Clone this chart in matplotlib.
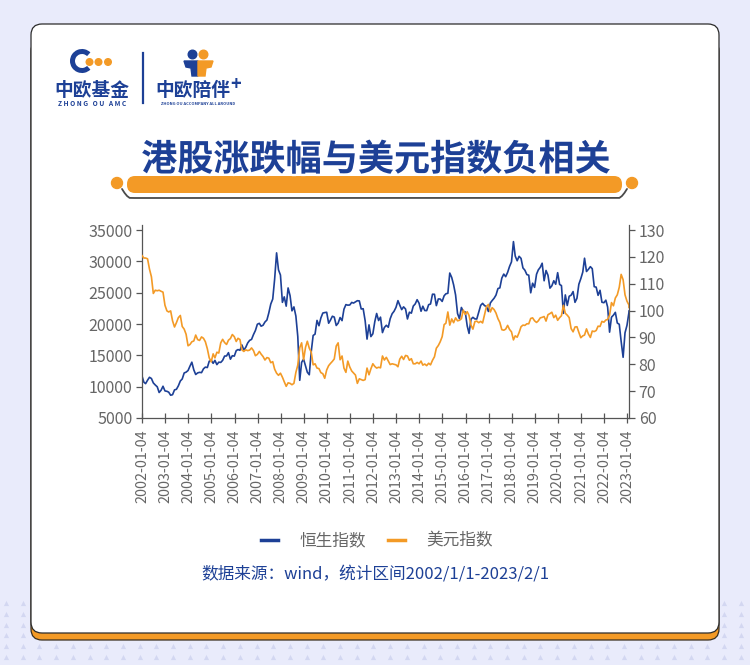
import matplotlib
matplotlib.use("Agg")
import matplotlib.pyplot as plt
import matplotlib.patheffects as pe
from matplotlib.patches import FancyBboxPatch, Circle, Arc, Polygon
from matplotlib.lines import Line2D
import numpy as np
import pandas as pd

plt.rcParams['font.family'] = ['Noto Sans CJK SC', 'DejaVu Sans']

BLUE = '#1d4096'
ORANGE = '#f39a26'
GRAY = '#666666'

# month-end observations, 2002-01 .. 2023-01, plus the last day of the range
first_day = '2002-01-02'
last_day = '2023-02-01'

hsi = [
    11700,
    10725, 10482, 11033, 11497, 11301, 10598, 10267, 9980, 9072, 9441, 10069, 9321,
    9258, 9122, 8634, 8717, 9487, 9577, 10135, 10908, 11230, 12190, 12317, 12576,
    13289, 13908, 12682, 11942, 12198, 12286, 12239, 12850, 13120, 13054, 14060, 14230,
    13722, 14196, 13516, 13908, 13868, 14201, 14880, 14903, 15429, 14386, 14937, 14876,
    15753, 15919, 15805, 16661, 15857, 16267, 16971, 17392, 17543, 18324, 18960, 19965,
    20107, 19652, 19801, 20319, 20635, 21773, 23185, 23984, 27142, 31352, 28643, 27813,
    23456, 24332, 22849, 25755, 24533, 22102, 22731, 21262, 18016, 11016, 13888, 14387,
    13278, 12300, 11900, 15521, 18171, 18379, 20573, 19724, 20955, 21753, 21822, 21873,
    20122, 20608, 21239, 21108, 19765, 20129, 21030, 20536, 22359, 23096, 23008, 23035,
    23447, 23338, 23528, 23720, 23684, 22398, 22440, 20535, 17592, 19864, 17989, 18434,
    20390, 21680, 20556, 21094, 18629, 19441, 19796, 19482, 20840, 21642, 22030, 22657,
    23730, 23020, 22300, 22737, 22392, 20803, 21883, 21731, 22859, 23206, 23881, 23306,
    22035, 22837, 22151, 22134, 23082, 23191, 24757, 24742, 22933, 23998, 23987, 23605,
    24507, 24823, 24901, 28133, 27424, 26250, 24636, 21670, 20846, 22640, 21996, 21914,
    19683, 18500, 20777, 21067, 20815, 20794, 21891, 22977, 23297, 22935, 22790, 22001,
    23361, 23741, 24112, 24615, 25661, 25765, 27323, 27970, 27554, 28246, 29177, 29919,
    33150, 30845, 30093, 30808, 30469, 28955, 28583, 27888, 27789, 24980, 26507, 25846,
    27942, 28633, 29051, 29699, 26901, 28543, 27778, 25725, 26092, 26907, 26346, 28190,
    26313, 26130, 21700, 24644, 22961, 24427, 24595, 25177, 23459, 24107, 26341, 27231,
    28284, 30500, 28378, 28725, 29152, 28828, 25961, 25879, 24576, 25377, 23475, 23398,
    23802, 22713, 18700, 21089, 21415, 21860, 20157, 19954, 17223, 14687, 18597, 19781,
    21842,
    22072,
]

dxy = [
    120.5,
    119.6, 119.6, 119.3, 115.5, 112.6, 106.4, 107.6, 107.4, 107.6, 107.2, 106.9, 102.0,
    99.9, 99.5, 99.9, 96.2, 93.9, 95.5, 97.4, 98.2, 94.1, 93.1, 91.2, 86.9,
    87.4, 88.4, 88.7, 90.9, 89.2, 88.9, 90.2, 89.7, 88.4, 85.8, 82.4, 80.9,
    83.9, 82.4, 84.5, 84.2, 88.0, 89.3, 88.1, 87.4, 89.0, 89.6, 91.1, 90.3,
    88.5, 89.7, 89.2, 85.4, 84.8, 85.4, 85.1, 85.3, 86.1, 85.1, 83.2, 83.7,
    84.8, 83.8, 82.9, 81.6, 82.5, 82.3, 80.6, 81.0, 78.2, 76.7, 75.9, 76.7,
    75.2, 73.5, 71.8, 73.1, 72.9, 72.4, 72.9, 77.0, 79.7, 86.2, 88.0, 81.7,
    86.4, 88.6, 86.0, 84.6, 79.8, 80.2, 78.6, 78.4, 76.9, 76.5, 74.8, 77.9,
    79.5, 80.3, 81.1, 82.0, 86.8, 88.0, 81.7, 83.1, 78.6, 77.0, 81.2, 79.0,
    77.5, 76.8, 76.0, 72.9, 74.6, 74.3, 74.0, 74.3, 78.6, 76.1, 78.3, 80.2,
    79.2, 78.6, 78.9, 78.7, 83.1, 81.6, 82.6, 81.2, 79.9, 80.2, 80.0, 79.8,
    79.1, 81.9, 83.0, 81.8, 83.3, 83.1, 81.5, 82.1, 80.2, 80.2, 80.7, 80.2,
    81.2, 79.7, 80.1, 79.5, 80.4, 79.8, 81.5, 82.8, 86.0, 87.0, 88.4, 90.3,
    94.8, 95.3, 99.5, 94.6, 96.9, 95.5, 97.3, 96.2, 96.4, 97.0, 100.2, 98.6,
    99.6, 98.2, 94.6, 93.1, 95.9, 96.1, 95.5, 96.0, 95.4, 98.5, 101.5, 102.3,
    99.5, 101.1, 100.4, 99.1, 97.0, 95.6, 92.9, 92.7, 93.1, 94.5, 93.0, 92.1,
    89.1, 90.6, 90.1, 91.8, 94.0, 94.6, 94.5, 95.1, 95.1, 97.1, 97.3, 96.2,
    95.6, 96.2, 97.3, 97.5, 97.8, 96.1, 98.5, 98.9, 99.4, 97.4, 98.3, 96.4,
    97.4, 98.1, 102.0, 99.0, 98.3, 97.4, 93.3, 92.1, 93.9, 94.0, 91.9, 89.9,
    90.6, 90.9, 93.2, 91.3, 90.0, 92.4, 92.2, 92.6, 94.2, 94.1, 96.0, 95.7,
    96.5, 96.7, 98.3, 103.0, 101.8, 104.7, 105.9, 108.7, 113.5, 111.5, 105.9, 103.5,
    102.1,
    101.2,
]

year_ticks = [f'{y}-01-04' for y in range(2002, 2024)]
series_names = ['恒生指数', '美元指数']
title = '港股涨跌幅与美元指数负相关'
source_note = '数据来源：wind，统计区间2002/1/1-2023/2/1'

dates = pd.DatetimeIndex(
    [pd.Timestamp(first_day)]
    + list(pd.date_range('2002-01-31', '2023-01-31', freq='ME'))
    + [pd.Timestamp(last_day)]
)

W, H = 750, 665
fig = plt.figure(figsize=(W / 100, H / 100), dpi=100)
fig.patch.set_facecolor('#e9ebfb')

# decoration layer in pixel coordinates
bg = fig.add_axes([0, 0, 1, 1], zorder=0)
bg.set_xlim(0, W)
bg.set_ylim(H, 0)
bg.axis('off')

tx, ty = np.meshgrid(np.arange(6, W, 16.7), np.arange(603, H, 10.8))
bg.scatter(tx.ravel(), ty.ravel(), marker='^', s=14, color='#d3d7f1', lw=0)

# card with orange bottom edge
bg.add_patch(FancyBboxPatch((31, 40), 688, 600, boxstyle='round,pad=0,rounding_size=11',
                            fc=ORANGE, ec='#3a3020', lw=0.9))
bg.add_patch(FancyBboxPatch((31, 24), 688, 609, boxstyle='round,pad=0,rounding_size=11',
                            fc='white', ec='#2b2b2b', lw=0.9))

# logo
bg.add_patch(Arc((82, 61), 19, 19, theta1=45, theta2=315, color=BLUE, lw=3.6))
for cx in (89.5, 98.5, 108):
    bg.add_patch(Circle((cx, 62), 3.3, color=ORANGE))
bg.text(92, 90, '中欧基金', fontsize=13.5, fontweight='bold', color=BLUE,
        ha='center', va='center')
bg.text(92, 103.5, 'Z H O N G   O U   A M C', fontsize=4.8, fontweight='bold',
        color=BLUE, ha='center', va='center')
bg.plot([143, 143], [53, 103], color=BLUE, lw=1.6)
bg.add_patch(Circle((192.5, 54.5), 4.3, color=BLUE))
bg.add_patch(Circle((203.5, 54.5), 4.3, color=ORANGE))
bg.add_patch(Polygon([(184, 61), (198, 61), (198, 76), (192, 76), (191, 68), (186, 67)],
                     closed=True, color=BLUE))
bg.add_patch(Polygon([(198, 61), (213, 61), (211, 67), (206, 68), (205, 76), (198, 76)],
                     closed=True, color=ORANGE))
bg.text(193, 90, '中欧陪伴', fontsize=13.5, fontweight='bold', color=BLUE,
        ha='center', va='center')
bg.text(236, 85, '+', fontsize=13, fontweight='bold', color=BLUE, ha='center', va='center')
bg.text(198, 104, 'ZHONG OU ACCOMPANY ALL AROUND', fontsize=2.9, fontweight='bold',
        color=BLUE, ha='center', va='center')

# title banner
bg.add_patch(FancyBboxPatch((127, 176), 495, 17, boxstyle='round,pad=0,rounding_size=8',
                            fc=ORANGE, ec='none'))
bg.add_patch(Circle((117, 183), 5.5, color=ORANGE))
bg.add_patch(Circle((632, 183), 5.5, color=ORANGE))
sx = np.linspace(122, 627, 200)
sy = np.full_like(sx, 198.0)
sy[sx < 130] = 198 - (130 - sx[sx < 130]) ** 1.5 * 0.4
sy[sx > 619] = 198 - (sx[sx > 619] - 619) ** 1.5 * 0.4
bg.plot(sx, sy, color='#4a4a4a', lw=1.3, solid_capstyle='round')
bg.text(376, 160, title, fontsize=26, fontweight='black', color=BLUE,
        ha='center', va='center',
        path_effects=[pe.Stroke(linewidth=3.5, foreground='white'), pe.Normal()])

# chart
ax = fig.add_axes([142 / W, 1 - 418 / H, (629 - 142) / W, (418 - 225) / H], zorder=2)
ax.patch.set_alpha(0)
ax2 = ax.twinx()

ax.plot(dates, hsi, color=BLUE, lw=1.2)
ax2.plot(dates, dxy, color=ORANGE, lw=1.2)

ax.set_xlim(pd.Timestamp(first_day), pd.Timestamp(last_day))
ax.set_ylim(5000, 35800)
ax.set_yticks(np.arange(5000, 35001, 5000))
ax2.set_ylim(60, 131.9)
ax2.set_yticks(np.arange(60, 131, 10))

ax.set_xticks(pd.to_datetime(year_ticks))
ax.set_xticklabels(year_ticks, rotation=90)

for a in (ax, ax2):
    for s in a.spines.values():
        s.set_color('#555555')
        s.set_linewidth(0.9)
    a.spines['top'].set_visible(False)
ax.spines['right'].set_visible(False)
ax2.spines['left'].set_visible(False)
ax2.spines['bottom'].set_visible(False)

ax.tick_params(axis='y', direction='out', length=4, width=0.9, color='#555555',
               labelsize=11.5, labelcolor=GRAY, pad=3)
ax.tick_params(axis='x', direction='inout', length=7, width=0.9, color='#555555',
               labelsize=10.3, labelcolor=GRAY, pad=5)
ax2.tick_params(axis='y', direction='out', length=4, width=0.9, color='#555555',
                labelsize=11.5, labelcolor=GRAY, pad=3)

handles = [Line2D([], [], color=BLUE, lw=2.5), Line2D([], [], color=ORANGE, lw=2.5)]
fig.legend(handles, series_names, loc='center', bbox_to_anchor=(377 / W, 1 - 541 / H),
           ncol=2, frameon=False, fontsize=12, labelcolor=GRAY, handlelength=1.0,
           handletextpad=1.3, columnspacing=1.3)

bg.text(375, 574, source_note, fontsize=12, color=BLUE, ha='center', va='center')

fig.savefig('out.png', dpi=100, facecolor=fig.get_facecolor())
